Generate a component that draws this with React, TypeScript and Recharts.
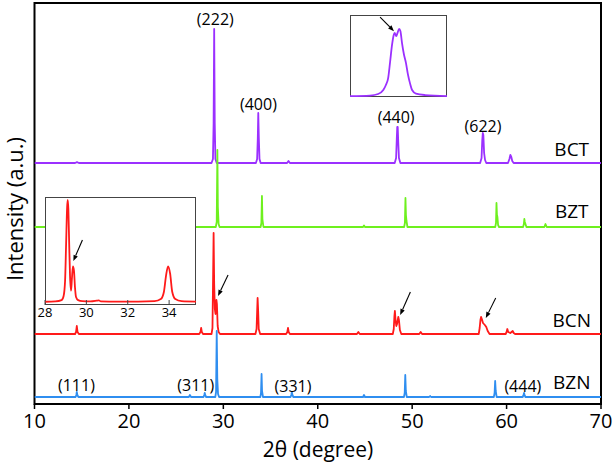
import React from 'react';
import {
  LineChart,
  Line,
  XAxis,
  YAxis,
  ReferenceArea,
  ReferenceDot,
  ReferenceLine,
} from 'recharts';

type Pt = [number, number];

const FONT = "'Open Sans', 'Noto Sans', sans-serif";

// x axis ticks (2 theta, degree)
const THETA_TICKS = [10, 20, 30, 40, 50, 60, 70];
const INSET_TICKS = [28, 30, 32, 34];

// patterns, [2theta, intensity]
const BCT: Pt[] = [
  [10, 0], [14.3, 0], [14.5, 0.8], [14.7, 0],
  [28.75, 0], [28.9, 4], [28.97, 40], [29.03, 134], [29.09, 40], [29.16, 4], [29.3, 0],
  [33.45, 0], [33.58, 4], [33.65, 25], [33.7, 50], [33.76, 25], [33.83, 4], [33.95, 0],
  [36.75, 0], [36.9, 2], [37.05, 0],
  [48.15, 0], [48.3, 5], [48.37, 24], [48.42, 36], [48.47, 36], [48.53, 20], [48.6, 5], [48.75, 0],
  [57.2, 0], [57.35, 5], [57.42, 22], [57.48, 30], [57.54, 28], [57.62, 10], [57.72, 3], [57.85, 0],
  [60.15, 0], [60.3, 4], [60.4, 8], [60.5, 6], [60.6, 2], [60.75, 0],
  [70, 0],
];

const BZT: Pt[] = [
  [10, 0], [29.2, 0], [29.3, 5], [29.37, 77], [29.42, 20], [29.5, 3], [29.6, 0],
  [33.95, 0], [34.03, 4], [34.09, 31], [34.14, 8], [34.25, 0],
  [44.8, 0], [44.9, 1.5], [45, 0],
  [49.15, 0], [49.23, 4], [49.29, 29], [49.34, 12], [49.4, 6], [49.5, 0],
  [58.8, 0], [58.88, 4], [58.93, 24], [58.98, 12], [59.03, 10], [59.1, 2], [59.2, 0],
  [61.75, 0], [61.83, 3], [61.88, 8], [61.93, 5], [62.0, 3], [62.1, 0],
  [64.0, 0], [64.12, 3], [64.25, 0],
  [70, 0],
];

const BCN: Pt[] = [
  [10, 0], [14.3, 0], [14.4, 2], [14.48, 8], [14.56, 2], [14.7, 0],
  [27.45, 0], [27.58, 2], [27.65, 6], [27.72, 2], [27.85, 0],
  [28.75, 0], [28.85, 6], [28.92, 60], [28.97, 101], [29.03, 50], [29.1, 25], [29.17, 20],
  [29.27, 34], [29.32, 30], [29.4, 8], [29.5, 2], [29.65, 0],
  [33.4, 0], [33.52, 5], [33.58, 22], [33.63, 36], [33.68, 25], [33.75, 5], [33.9, 0],
  [36.65, 0], [36.78, 2], [36.85, 6], [36.92, 2], [37.05, 0],
  [44.15, 0], [44.3, 2], [44.45, 0],
  [47.95, 0], [48.05, 5], [48.12, 18], [48.17, 23], [48.24, 14], [48.32, 8], [48.4, 10],
  [48.53, 17], [48.6, 14], [48.7, 4], [48.85, 0],
  [50.75, 0], [50.9, 2], [51.05, 0],
  [57.05, 0], [57.15, 6], [57.23, 14], [57.3, 17], [57.38, 15], [57.5, 11], [57.7, 9],
  [57.85, 7], [58.0, 3], [58.2, 0],
  [59.9, 0], [60.0, 2], [60.08, 5], [60.17, 2], [60.4, 1], [60.65, 3], [60.75, 1], [60.9, 0],
  [70, 0],
];

const BZN: Pt[] = [
  [10, 0], [14.35, 0], [14.43, 2], [14.48, 5], [14.54, 2], [14.65, 0],
  [26.35, 0], [26.46, 2], [26.58, 0],
  [27.9, 0], [27.98, 2], [28.03, 4], [28.08, 2], [28.18, 0],
  [29.15, 0], [29.23, 5], [29.3, 66], [29.36, 18], [29.44, 3], [29.55, 0],
  [33.92, 0], [33.99, 4], [34.05, 23], [34.1, 6], [34.2, 0],
  [37.12, 0], [37.2, 2], [37.26, 5], [37.32, 2], [37.42, 0],
  [44.8, 0], [44.9, 2], [45.0, 0],
  [49.13, 0], [49.21, 4], [49.27, 22], [49.33, 6], [49.43, 0],
  [51.8, 0], [51.9, 1], [52.0, 0],
  [58.65, 0], [58.73, 4], [58.79, 16], [58.85, 6], [58.95, 0],
  [61.7, 0], [61.8, 2], [61.85, 4], [61.9, 2], [62.0, 0],
  [70, 0],
];

// inset: BCT (222) doublet
const BCT_ZOOM: Pt[] = [
  [27.5, 0], [28.12, 0.6], [28.37, 2.5], [28.53, 7.4], [28.61, 13.6], [28.68, 22],
  [28.74, 42], [28.8, 63], [28.85, 75], [28.88, 78], [28.93, 74], [28.97, 78],
  [29.02, 83], [29.06, 80], [29.11, 65], [29.17, 51], [29.23, 41], [29.29, 27],
  [29.36, 15], [29.42, 7.4], [29.54, 3], [29.82, 1.2], [30.5, 0],
];

// inset: BCN 28-35 degree
const BCN_ZOOM: Pt[] = [
  [28.0, 0.5], [28.5, 0.8], [28.8, 2], [28.9, 6], [28.97, 20], [29.02, 55], [29.07, 90],
  [29.1, 97], [29.13, 88], [29.17, 55], [29.21, 25], [29.26, 11], [29.3, 22], [29.35, 34],
  [29.4, 30], [29.45, 14], [29.5, 5], [29.6, 2], [29.8, 1], [30.2, 0.8], [30.5, 1.5],
  [30.6, 1.8], [30.7, 0.8], [31.5, 0.6], [32.5, 0.6], [33.3, 1], [33.6, 3], [33.75, 10],
  [33.85, 25], [33.95, 34], [34.05, 27], [34.15, 10], [34.3, 3], [34.6, 1], [35.3, 0.6],
];

const SERIES = [
  { name: 'BCT', pts: BCT, offset: 241, color: '#9b30ff' },
  { name: 'BZT', pts: BZT, offset: 177, color: '#6ef01e' },
  { name: 'BCN', pts: BCN, offset: 70, color: '#ff1a1a' },
  { name: 'BZN', pts: BZN, offset: 7, color: '#2f8ef0' },
];

const NAME_LABELS = [
  { text: 'BCT', x: 66.9, y: 255 },
  { text: 'BZT', x: 66.9, y: 193 },
  { text: 'BCN', x: 66.9, y: 84 },
  { text: 'BZN', x: 66.9, y: 22 },
];

const PEAK_LABELS = [
  { text: '(222)', x: 29.15, y: 385 },
  { text: '(400)', x: 33.72, y: 300 },
  { text: '(440)', x: 48.3, y: 287 },
  { text: '(622)', x: 57.5, y: 278 },
  { text: '(111)', x: 14.44, y: 19 },
  { text: '(311)', x: 27.08, y: 19 },
  { text: '(331)', x: 37.38, y: 18 },
  { text: '(444)', x: 61.72, y: 18 },
];

const MAIN_ARROWS = [
  { from: { x: 30.5, y: 129 }, to: { x: 29.44, y: 108 } },
  { from: { x: 49.81, y: 112 }, to: { x: 48.73, y: 89 } },
  { from: { x: 58.85, y: 106 }, to: { x: 57.8, y: 86 } },
];

const toPoints = (pts: Pt[], offset = 0) => pts.map(([x, y]) => ({ x, y: y + offset }));

const Arrow = (props: any) => {
  const { x1, y1, x2, y2 } = props;
  const ang = Math.atan2(y2 - y1, x2 - x1);
  const len = 6;
  const half = 2.3;
  const bx = x2 - len * Math.cos(ang);
  const by = y2 - len * Math.sin(ang);
  const nx = -Math.sin(ang) * half;
  const ny = Math.cos(ang) * half;
  return (
    <g>
      <line x1={x1} y1={y1} x2={bx} y2={by} stroke="#000" strokeWidth={1.1} />
      <polygon
        points={`${x2},${y2} ${bx + nx},${by + ny} ${bx - nx},${by - ny}`}
        fill="#000"
      />
    </g>
  );
};

const textShape = (text: string, size: number) => (p: any) => (
  <text
    x={p.cx}
    y={p.cy}
    textAnchor="middle"
    dominantBaseline="central"
    fontSize={size}
    fontFamily={FONT}
    fill="#000"
  >
    {text}
  </text>
);

const App: React.FC = () => {
  return (
    <div style={{ position: 'absolute', left: 0, top: 0, width: 615, height: 464, background: '#fff' }}>
      <LineChart width={615} height={464} margin={{ top: 3, right: 14, bottom: 0, left: 34.5 }}>
        <XAxis
          dataKey="x"
          type="number"
          domain={[10, 70]}
          ticks={THETA_TICKS}
          allowDataOverflow
          height={60}
          tickSize={5}
          tickMargin={5}
          axisLine={false}
          tickLine={{ stroke: '#000', strokeWidth: 1.5 }}
          tick={{ fill: '#000', fontSize: 20, fontFamily: FONT }}
        />
        <YAxis hide type="number" domain={[0, 401]} allowDataOverflow />
        <ReferenceArea
          x1={10}
          x2={70}
          y1={0}
          y2={401}
          fill="none"
          stroke="#000"
          strokeWidth={2}
          ifOverflow="visible"
        />
        {SERIES.map((s) => (
          <Line
            key={s.name}
            data={toPoints(s.pts, s.offset)}
            dataKey="y"
            type="linear"
            stroke={s.color}
            strokeWidth={1.8}
            strokeLinejoin="round"
            dot={false}
            activeDot={false}
            isAnimationActive={false}
          />
        ))}
        {NAME_LABELS.map((l) => (
          <ReferenceDot key={l.text} x={l.x} y={l.y} r={0} ifOverflow="visible" shape={textShape(l.text, 19)} />
        ))}
        {PEAK_LABELS.map((l) => (
          <ReferenceDot key={l.text} x={l.x} y={l.y} r={0} ifOverflow="visible" shape={textShape(l.text, 16)} />
        ))}
        {MAIN_ARROWS.map((a, i) => (
          <ReferenceLine key={i} segment={[a.from, a.to]} ifOverflow="visible" shape={Arrow} />
        ))}
      </LineChart>

      {/* inset: BCT (222) */}
      <div style={{ position: 'absolute', left: 350, top: 15, width: 97, height: 82 }}>
        <div
          style={{
            position: 'absolute', left: 0, top: 0, width: 97, height: 82,
            background: '#fff', border: '1.5px solid #444', boxSizing: 'border-box',
          }}
        />
        <div style={{ position: 'absolute', left: 0, top: 0 }}>
          <LineChart width={97} height={82} margin={{ top: 0, right: 0, bottom: 0, left: 0 }}>
            <XAxis hide dataKey="x" type="number" domain={[27.5, 30.5]} allowDataOverflow />
            <YAxis hide type="number" domain={[-1.2, 100]} allowDataOverflow />
            <Line
              data={toPoints(BCT_ZOOM)}
              dataKey="y"
              type="monotone"
              stroke="#9b30ff"
              strokeWidth={1.8}
              dot={false}
              activeDot={false}
              isAnimationActive={false}
            />
            <ReferenceLine
              segment={[{ x: 28.43, y: 97.5 }, { x: 28.86, y: 80 }]}
              ifOverflow="visible"
              shape={Arrow}
            />
          </LineChart>
        </div>
      </div>

      {/* inset: BCN 28-35 degree */}
      <div style={{ position: 'absolute', left: 33, top: 197, width: 175, height: 128 }}>
        <div
          style={{
            position: 'absolute', left: 12, top: 0, width: 151, height: 108,
            background: '#fff', border: '1.5px solid #444', boxSizing: 'border-box',
          }}
        />
        <div style={{ position: 'absolute', left: 0, top: 0 }}>
          <LineChart width={175} height={128} margin={{ top: 0, right: 12, bottom: 0, left: 12 }}>
            <XAxis
              dataKey="x"
              type="number"
              domain={[28, 35.3]}
              ticks={INSET_TICKS}
              allowDataOverflow
              height={20}
              tickSize={-5}
              tickMargin={8}
              axisLine={false}
              tickLine={{ stroke: '#444', strokeWidth: 1 }}
              tick={{ fill: '#000', fontSize: 13, fontFamily: FONT }}
            />
            <YAxis hide type="number" domain={[-2.6, 99.7]} allowDataOverflow />
            <Line
              data={toPoints(BCN_ZOOM)}
              dataKey="y"
              type="monotone"
              stroke="#ff1a1a"
              strokeWidth={1.8}
              dot={false}
              activeDot={false}
              isAnimationActive={false}
            />
            <ReferenceLine
              segment={[{ x: 29.81, y: 59 }, { x: 29.37, y: 39 }]}
              ifOverflow="visible"
              shape={Arrow}
            />
          </LineChart>
        </div>
      </div>

      <svg
        width={615}
        height={464}
        style={{ position: 'absolute', left: 0, top: 0, pointerEvents: 'none' }}
      >
        <text x={318} y={449} textAnchor="middle" dominantBaseline="central" fontSize={21} fontFamily={FONT} fill="#000">
          2θ (degree)
        </text>
        <text
          x={14}
          y={209}
          textAnchor="middle"
          dominantBaseline="central"
          fontSize={22}
          fontFamily={FONT}
          fill="#000"
          transform="rotate(-90 14 209)"
        >
          Intensity (a.u.)
        </text>
      </svg>
    </div>
  );
};

export default App;
